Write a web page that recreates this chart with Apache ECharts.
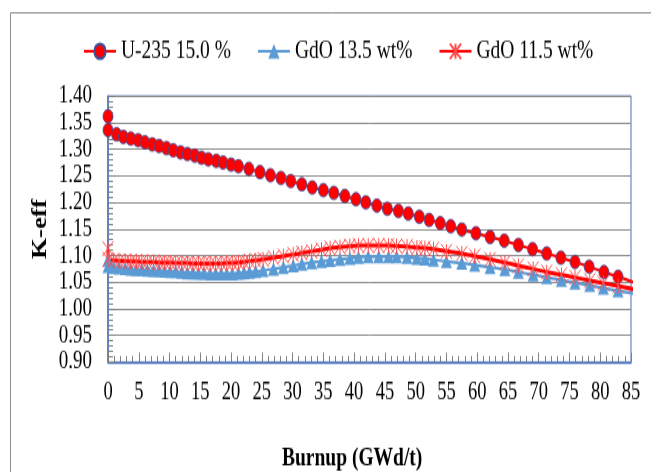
<!DOCTYPE html>
<html>
<head>
<meta charset="utf-8">
<script src="https://cdn.jsdelivr.net/npm/echarts@6/dist/echarts.min.js"></script>
<style>
  html { margin: 0; padding: 0; background: #fff; overflow: hidden; }
  body { margin: 0; padding: 0; width: 651px; height: 472px; background: #fff; }
  /* the source picture is stretched vertically, so draw at 350px and stretch */
  #main { width: 651px; height: 350px; transform: scaleY(1.348571); transform-origin: 0 0; }
</style>
</head>
<body>
<div id="main"></div>
<script>
// burnup points (GWd/t) and k-eff
var uX = [0, 0, 1.4, 2.5, 3.7, 4.9, 6.0, 7.2, 8.3, 9.5, 10.6, 11.8, 12.9, 14.1, 15.2, 16.3, 17.6, 18.7, 20.0, 21.2,
  22.9, 24.7, 26.4, 28.1, 29.7, 31.5, 33.2, 35.0, 36.7, 38.5, 40.3, 41.9, 43.7, 45.4, 47.2, 48.8, 50.6, 52.2, 54.0,
  55.7, 57.5, 59.8, 62.1, 64.4, 66.7, 69.0, 71.3, 73.6, 75.9, 78.2, 80.6, 82.9, 86.5];
var u235 = [1.362, 1.336, 1.328, 1.323, 1.320, 1.317, 1.313, 1.309, 1.306, 1.302, 1.298, 1.294, 1.291, 1.288, 1.284,
  1.281, 1.278, 1.275, 1.271, 1.268, 1.263, 1.257, 1.251, 1.246, 1.240, 1.234, 1.228, 1.223, 1.218, 1.212, 1.206,
  1.200, 1.194, 1.188, 1.184, 1.179, 1.173, 1.167, 1.161, 1.155, 1.149, 1.142, 1.135, 1.128, 1.120, 1.112, 1.104,
  1.096, 1.088, 1.079, 1.069, 1.060, 1.046];

var gdX = [0, 0, 0.9, 1.8, 2.8, 3.7, 4.6, 5.5, 6.4, 7.4, 8.3, 9.2, 10.1, 11.0, 12.0, 12.9, 13.8, 14.7, 15.6, 16.6,
  17.5, 18.4, 19.3, 20.2, 21.2, 22.1, 23.0, 24.0, 25.2, 26.9, 28.5, 30.1, 31.5, 33.1, 34.7, 36.1, 37.7, 39.3,
  40.7, 42.3, 44.0, 45.6, 46.9, 48.6, 50.2, 51.5, 52.9, 55.0, 57.5, 59.6, 62.1, 64.5, 66.7, 69.1, 71.3, 73.7,
  75.9, 78.3, 80.5, 82.9, 86.5];
var gdo135 = [1.092, 1.080, 1.078, 1.077, 1.076, 1.075, 1.074, 1.074, 1.073, 1.072,
  1.072, 1.071, 1.070, 1.070, 1.069, 1.068, 1.068, 1.067, 1.067, 1.066,
  1.066, 1.066, 1.066, 1.066, 1.067, 1.068, 1.069, 1.070,
  1.072, 1.075, 1.078, 1.081, 1.084, 1.087, 1.089, 1.091, 1.093, 1.095,
  1.097, 1.098, 1.098, 1.098, 1.098, 1.097, 1.095, 1.094, 1.092, 1.089,
  1.086, 1.082, 1.078, 1.074, 1.069, 1.064, 1.059, 1.054, 1.049, 1.044,
  1.039, 1.034, 1.026];
var gdo115 = [1.113, 1.093, 1.091, 1.090, 1.090, 1.089, 1.089, 1.088, 1.088, 1.088,
  1.087, 1.087, 1.087, 1.086, 1.086, 1.086, 1.085, 1.085, 1.085, 1.085,
  1.085, 1.085, 1.086, 1.086, 1.087, 1.088, 1.090, 1.091,
  1.093, 1.096, 1.099, 1.102, 1.105, 1.108, 1.111, 1.114, 1.116, 1.118,
  1.119, 1.119, 1.119, 1.119, 1.118, 1.117, 1.115, 1.114, 1.112, 1.108,
  1.104, 1.099, 1.093, 1.087, 1.081, 1.075, 1.069, 1.064, 1.059, 1.053,
  1.048, 1.043, 1.034];

var seriesNames = ['U-235 15.0 %', 'GdO 13.5 wt%', 'GdO 11.5 wt%'];

function pairs(xs, ys) {
  return xs.map(function (x, i) { return [x, ys[i]]; });
}

var font = 'Liberation Serif';
var chart = echarts.init(document.getElementById('main'), null, { renderer: 'canvas' });

var option = {
  animation: false,
  backgroundColor: '#fff',
  graphic: [{
    type: 'rect',
    shape: { x: 10.5, y: 9.5, width: 700, height: 400 },
    style: { fill: 'none', stroke: '#8c8c8c', lineWidth: 1 },
    silent: true
  }],
  title: {
    text: 'Burnup (GWd/t)',
    left: 282,
    top: 330,
    padding: 0,
    textStyle: { fontFamily: font, fontSize: 19.5, fontWeight: 'bold', color: '#000' }
  },
  legend: {
    left: 83,
    top: 28,
    padding: 0,
    itemWidth: 32,
    itemHeight: 14,
    itemGap: 26,
    data: seriesNames,
    textStyle: { fontFamily: font, fontSize: 19.5, color: '#000' }
  },
  grid: {
    left: 108,
    right: 20,
    top: 71.2,
    bottom: 81.6,
    show: true,
    borderColor: '#4472c4',
    borderWidth: 1
  },
  xAxis: {
    type: 'value',
    min: 0,
    max: 85,
    interval: 5,
    axisLine: { lineStyle: { color: '#4472c4', width: 1.5 } },
    axisTick: { inside: true, length: 7, lineStyle: { color: '#808080' } },
    minorTick: { show: true, splitNumber: 5, length: 4.5, lineStyle: { color: '#808080' } },
    splitLine: { show: false },
    axisLabel: { fontFamily: font, fontSize: 18.5, color: '#000', margin: 13 }
  },
  yAxis: {
    type: 'value',
    min: 0.9,
    max: 1.4,
    interval: 0.05,
    name: 'K-eff',
    nameLocation: 'middle',
    nameRotate: 90,
    nameGap: 57,
    nameMoveOverlap: false,
    nameTextStyle: { fontFamily: font, fontSize: 20, fontWeight: 'bold', color: '#000' },
    axisLine: { show: true, lineStyle: { color: '#4472c4', width: 1.5 } },
    axisTick: { show: true, inside: true, length: 7, lineStyle: { color: '#808080' } },
    minorTick: { show: true, splitNumber: 5, length: 5, lineStyle: { color: '#808080' } },
    splitLine: { lineStyle: { color: '#8c8c8c', width: 1 } },
    axisLabel: {
      fontFamily: font, fontSize: 19, color: '#000', margin: 16,
      formatter: function (v) { return v.toFixed(2); }
    }
  },
  series: [
    {
      name: seriesNames[0],
      type: 'line',
      data: pairs(uX, u235),
      smooth: 0.3,
      symbol: 'circle',
      symbolSize: 10,
      lineStyle: { color: '#ff0000', width: 2.2 },
      itemStyle: { color: '#ff0000', borderColor: '#3a4f9e', borderWidth: 0.8 }
    },
    {
      name: seriesNames[1],
      type: 'line',
      data: pairs(gdX, gdo135),
      smooth: 0.3,
      symbol: 'triangle',
      symbolSize: [11, 10],
      lineStyle: { color: '#5b9bd5', width: 2.2 },
      itemStyle: { color: '#5b9bd5' }
    },
    {
      name: seriesNames[2],
      type: 'line',
      data: pairs(gdX, gdo115),
      smooth: 0.3,
      symbol: 'path://M0,0L10,10M10,0L0,10M5,0L5,10',
      symbolSize: [11, 11],
      lineStyle: { color: '#ff0000', width: 3 },
      itemStyle: { color: 'none', borderColor: '#ff4a4a', borderWidth: 1 }
    }
  ]
};

chart.setOption(option);
</script>
</body>
</html>
